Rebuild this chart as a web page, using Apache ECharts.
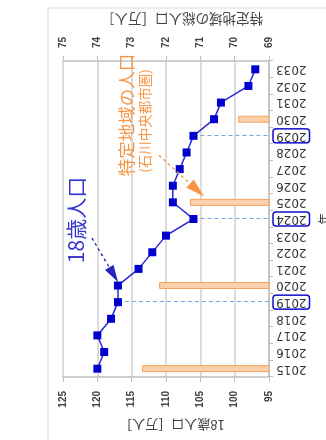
<!DOCTYPE html>
<html>
<head>
<meta charset="utf-8">
<title>18歳人口と特定地域の人口</title>
<script src="https://cdn.jsdelivr.net/npm/echarts@6/dist/echarts.min.js"></script>
<style>
html,body{margin:0;padding:0;width:326px;height:440px;overflow:hidden;background:#fff;}
/* グラフは横置きで描いて90度回転させる */
#main{position:absolute;left:0;top:0;width:440px;height:326px;transform-origin:0 0;transform:translateY(440px) rotate(-90deg);}
</style>
</head>
<body>
<div id="main"></div>
<script>
// 年
var years = ['2015','2016','2017','2018','2019','2020','2021','2022','2023','2024',
             '2025','2026','2027','2028','2029','2030','2031','2032','2033'];
// 18歳人口（万人）
var age18 = [120,119,120,118,117,117,114,112,110,106,109,109,108,107,106,103,102,98,97];
// 特定地域（石川中央都市圏）の総人口（万人） 5年ごと
var metroPop = [72.7,null,null,null,null,72.2,null,null,null,null,
                71.3,null,null,null,null,69.9,null,null,null];
// 強調する年
var markYears = ['2019','2024','2029'];

var gray = '#bfbfbf';
var cjk = 'Noto Sans CJK JP';

var chart = echarts.init(document.getElementById('main'));

var option = {
  animation: false,
  backgroundColor: '#fff',
  grid: {left: 63, right: 61, top: 63, bottom: 57, outerBoundsMode: 'none'},
  xAxis: {
    type: 'category',
    data: years,
    boundaryGap: true,
    name: '年',
    nameLocation: 'middle',
    nameGap: 43,
    nameTextStyle: {fontSize: 12, color: '#404040', fontFamily: cjk},
    axisLine: {lineStyle: {color: gray, width: 1.5}},
    axisTick: {show: true, length: 4, lineStyle: {color: gray}},
    axisLabel: {
      interval: 0,
      rotate: 90,
      margin: 4,
      formatter: function(v){
        return markYears.indexOf(v) >= 0 ? '{b|' + v + '}' : '{n|' + v + '}';
      },
      rich: {
        n: {fontSize: 12, fontFamily: 'DejaVu Sans', color: '#333', padding: [1,3,1,3]},
        b: {fontSize: 12, fontFamily: 'DejaVu Sans', color: '#333', padding: [1,3,1,3],
            borderColor: '#1010c8', borderWidth: 1.5, borderRadius: 3}
      }
    }
  },
  yAxis: [
    {
      type: 'value',
      position: 'left',
      min: 95, max: 125, interval: 5,
      name: '18歳人口［万人］',
      nameLocation: 'middle',
      nameRotate: 90,
      nameGap: 41,
      nameTextStyle: {fontSize: 13, color: '#404040', fontFamily: cjk, padding: [0,12,0,0]},
      axisLine: {show: true, lineStyle: {color: gray, width: 1.5}},
      axisTick: {show: true, length: 5, lineStyle: {color: gray}},
      axisLabel: {margin: 14, fontSize: 10, fontWeight: 'bold', color: '#404040', fontFamily: 'Liberation Sans'},
      splitLine: {show: true, lineStyle: {color: '#d0d0d0', width: 1.5}}
    },
    {
      type: 'value',
      position: 'right',
      min: 69, max: 75, interval: 1,
      name: '特定地域の総人口［万人］',
      nameLocation: 'middle',
      nameRotate: 90,
      nameGap: 28,
      nameTextStyle: {fontSize: 13.5, color: '#404040', fontFamily: cjk, padding: [0,32,0,0]},
      axisLine: {show: true, lineStyle: {color: gray, width: 1.5}},
      axisTick: {show: true, length: 5, lineStyle: {color: gray}},
      axisLabel: {margin: 13, fontSize: 10, fontWeight: 'bold', color: '#404040', fontFamily: 'Liberation Sans'},
      splitLine: {show: false}
    }
  ],
  series: [
    {
      name: '特定地域の総人口',
      type: 'bar',
      yAxisIndex: 1,
      data: metroPop,
      barWidth: 7,
      itemStyle: {color: '#fbd0ab', borderColor: '#f4a15d', borderWidth: 1}
    },
    {
      name: '18歳人口',
      type: 'line',
      yAxisIndex: 0,
      data: age18,
      symbol: 'rect',
      symbolSize: 8,
      z: 5,
      itemStyle: {color: '#0000cc'},
      lineStyle: {color: '#2a2ad6', width: 1.5},
      markLine: {
        silent: true,
        symbol: 'none',
        label: {show: false},
        lineStyle: {color: '#6fa8dc', type: [4,3], width: 1},
        data: markYears.map(function(y){
          var v = age18[years.indexOf(y)];
          return [{coord: [y, v]}, {coord: [y, 95]}];
        })
      }
    }
  ]
};
chart.setOption(option);

// 注釈の矢印
function arrow(tip, start, color, headLen, headW){
  var dx = tip[0] - start[0], dy = tip[1] - start[1];
  var len = Math.sqrt(dx*dx + dy*dy);
  var ux = dx/len, uy = dy/len;
  var bx = tip[0] - ux*headLen, by = tip[1] - uy*headLen;
  return [
    {type: 'line', shape: {x1: start[0], y1: start[1], x2: bx, y2: by},
     style: {stroke: color, lineWidth: 1.3, lineDash: [3,3]}, z: 10},
    {type: 'polygon', shape: {points: [tip, [bx - uy*headW, by + ux*headW], [bx + uy*headW, by - ux*headW]]},
     style: {fill: color}, z: 10}
  ];
}

var p2020 = chart.convertToPixel({xAxisIndex: 0, yAxisIndex: 0}, ['2020', age18[5]]);
var p2025 = chart.convertToPixel({xAxisIndex: 0, yAxisIndex: 1}, ['2025', metroPop[10]]);
var blueTip = [p2020[0] + 3.5, p2020[1]];
var orangeTip = [p2025[0] + 6, p2025[1] + 14];

var graphics = [
  {type: 'rect', shape: {x: -5, y: 48, width: 437, height: 300},
   style: {fill: null, stroke: '#d9d9d9', lineWidth: 1}, z: -1, silent: true},
  {type: 'text', x: 220, y: 76, z: 10,
   style: {text: '18歳人口', fontSize: 21, fontFamily: cjk, fill: '#3535cf', align: 'center', verticalAlign: 'middle'}},
  {type: 'text', x: 325, y: 126, z: 10,
   style: {text: '特定地域の人口', fontSize: 17.5, fontFamily: cjk, fill: '#f79646', align: 'center', verticalAlign: 'middle'}},
  {type: 'text', x: 319, y: 145, z: 10,
   style: {text: '(石川中央都市圏)', fontSize: 13.5, fontFamily: cjk, fill: '#f79646', align: 'center', verticalAlign: 'middle'}}
];
graphics = graphics.concat(arrow(blueTip, [blueTip[0] + 44, blueTip[1] - 26], '#2424b8', 17, 5));
graphics = graphics.concat(arrow(orangeTip, [orangeTip[0] + 41, orangeTip[1] - 45], '#f79646', 19, 5.5));

chart.setOption({graphic: graphics});
</script>
</body>
</html>
